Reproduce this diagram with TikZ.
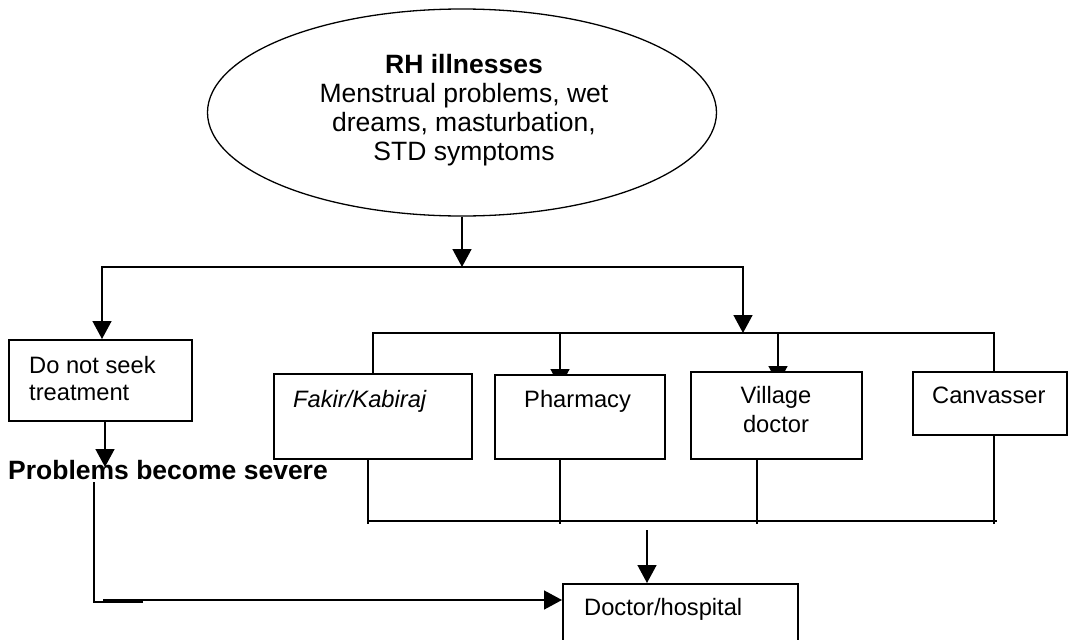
\documentclass[tikz,border=0pt]{standalone}
\usepackage{fontspec}
\setmainfont{Liberation Sans}
\usetikzlibrary{shapes.geometric,arrows.meta,calc}
\pgfdeclarelayer{bg}
\pgfsetlayers{bg,main}
\begin{document}
\begin{tikzpicture}[x=1pt,y=-1pt,
  ln/.style={line width=1.5pt},
  arr/.style={line width=1.5pt,-{Triangle[length=18pt,width=19pt]}},
  box/.style={draw,line width=1.5pt,fill=white,inner sep=0pt,anchor=north west},
  bt/.style={inner sep=0pt,font=\fontsize{23.7}{27.5}\selectfont},
]
\useasboundingbox (0,0) rectangle (1069,640);
\begin{pgfonlayer}{bg}
\fill[white] (0,0) rectangle (1069,640);
\end{pgfonlayer}

% ellipse
\node[draw,ellipse,line width=1.3pt,minimum width=509pt,minimum height=207pt,inner sep=0pt] (ell) at (462,112.5) {};
\node[inner sep=0pt,anchor=north,align=center,font=\fontsize{26.5}{29.2}\selectfont] (elltxt) at (464,53.6)
  {\textbf{RH illnesses}\\Menstrual problems, wet\\dreams, masturbation,\\STD symptoms};

% boxes
\node[box,minimum width=183pt,minimum height=81pt] (dns) at (8,339) {};
\node[bt,anchor=north west,align=left] (dnst) at (29,356) {Do not seek\\treatment};
\node[box,minimum width=198pt,minimum height=85pt] (fak) at (273,373) {};
\node[bt,anchor=base west] (fakt) at (293,407) {\itshape Fakir/Kabiraj};
\node[box,minimum width=170pt,minimum height=84pt] (pha) at (494,374) {};
\node[bt,anchor=base west] (phat) at (524,407) {Pharmacy};
\node[box,minimum width=171pt,minimum height=87pt] (vil) at (690,371) {};
\node[inner sep=0pt,anchor=north,align=center,font=\fontsize{23.7}{29}\selectfont] (vilt) at (776,386) {Village\\doctor};
\node[box,minimum width=154pt,minimum height=63pt] (can) at (912,371) {};
\node[bt,anchor=base west] (cant) at (932,403) {Canvasser};
\node[box,minimum width=235pt,minimum height=57pt] (doc) at (562,583) {};
\node[bt,anchor=base west] (doct) at (584,615) {Doctor/hospital};
\node[inner sep=0pt,anchor=base west,font=\fontsize{26.5}{30}\selectfont\bfseries] (prob) at (8,479) {Problems become severe};

% junction coordinates
\coordinate (tl) at (102,267);
\coordinate (tm) at (462,267);
\coordinate (tr) at (743,267);
\coordinate (ml) at (373,333);
\coordinate (mp) at (560,333);
\coordinate (mv) at (778,333);
\coordinate (mr) at (994,333);
\coordinate (bl) at (368,521);
\coordinate (bv) at (757,521);
\coordinate (br) at (997,521);
\coordinate (bd) at (647,530);
\coordinate (dsx) at (105,467);
\coordinate (pv) at (94,482);
\coordinate (pc) at (94,602);
\coordinate (pe) at (143,602);
\coordinate (ha) at (103,600);

% connectors
\draw[arr] (ell.south) -- (tm);
\draw[arr] (tm) -- (tl) -- (tl |- dns.north);
\draw[arr] (tm) -- (tr) -- (tr |- ml);
\draw[ln] (fak.north -| ml) -- (ml) -- (mr) -- (mr |- can.north);
\begin{pgfonlayer}{bg}
\draw[arr] (mp) -- ($(mp |- pha.north)+(0,13)$);
\draw[arr] (mv) -- ($(mv |- vil.north)+(0,13)$);
\end{pgfonlayer}
\draw[ln] (fak.south -| bl) -- ($(bl)+(0,3)$);
\draw[ln] (pha.south -| mp) -- ($(bl -| mp)+(0,3)$);
\draw[ln] (vil.south -| bv) -- ($(bv)+(0,3)$);
\draw[ln] (can.south -| mr) -- ($(br -| mr)+(0,3)$);
\draw[ln] (bl) -- (br);
\draw[arr] (bd) -- (bd |- doc.north);
\draw[arr] (dns.south -| dsx) -- (dsx);
\draw[ln] (pv) -- (pc) -- (pe);
\draw[arr] (ha) -- (ha -| doc.west);
\end{tikzpicture}
\end{document}
